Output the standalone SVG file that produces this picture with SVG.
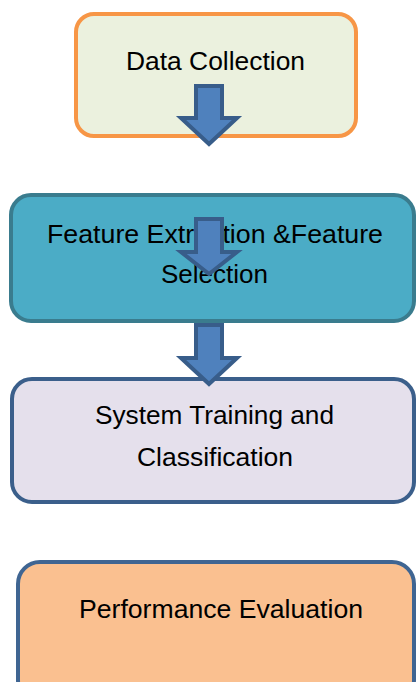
<svg xmlns="http://www.w3.org/2000/svg" width="416" height="682" viewBox="0 0 416 682">
<style>
.box{stroke-width:4}
.lbl{font-family:"Liberation Sans",Arial,sans-serif;font-size:25px;fill:#000;text-anchor:middle}
.arr{fill:#4f81bd;stroke:#385d8a;stroke-width:4;stroke-linejoin:miter;stroke-miterlimit:4}
</style>
<rect width="416" height="682" fill="#fff"/>
<g id="data-collection">
<rect class="box" x="76" y="14" width="280" height="122" rx="18" fill="#ebf1de" stroke="#f79646"/>
<text class="lbl" x="215.5" y="70" textLength="179" lengthAdjust="spacingAndGlyphs">Data Collection</text>
</g>
<g id="feature-extraction">
<rect class="box" x="11" y="195" width="403" height="126" rx="20" fill="#4bacc6" stroke="#3a7c8e"/>
<text class="lbl" x="215" y="243" textLength="336" lengthAdjust="spacingAndGlyphs">Feature Extraction &amp;Feature</text>
<text class="lbl" x="214.5" y="283" textLength="107" lengthAdjust="spacingAndGlyphs">Selection</text>
</g>
<g id="system-training">
<rect class="box" x="12" y="379" width="402" height="123" rx="20" fill="#e5e0ec" stroke="#3b5f8b"/>
<text class="lbl" x="214.5" y="424" textLength="239" lengthAdjust="spacingAndGlyphs">System Training and</text>
<text class="lbl" x="215" y="466" textLength="156" lengthAdjust="spacingAndGlyphs">Classification</text>
</g>
<g id="performance-evaluation">
<rect class="box" x="18" y="562" width="396" height="140" rx="22" fill="#fac090" stroke="#3f6592"/>
<text class="lbl" x="221" y="618" textLength="284" lengthAdjust="spacingAndGlyphs">Performance Evaluation</text>
</g>
<g id="connectors">
<path class="arr" d="M196,86 H222 V118 H237 L209,144 L181,118 H196 Z"/>
<path class="arr" d="M196,219 H222 V252 H237 L209,274 L181,252 H196 Z"/>
<path class="arr" d="M196,325 H222 V358 H237 L209,384 L181,358 H196 Z"/>
</g>
</svg>
